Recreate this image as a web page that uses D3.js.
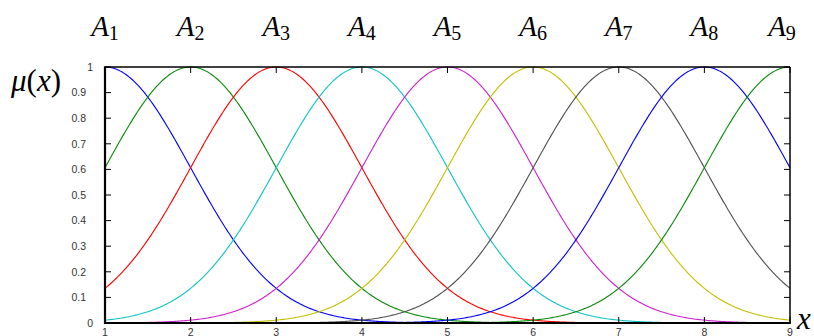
<!doctype html>
<html>
  <head>
    <script src="https://cdn.jsdelivr.net/npm/d3@7/dist/d3.min.js"></script>
    <style>
      body, html {
        margin: 0;
        background: #fff;
      }
      svg {
        display: block;
      }
      .tick-label {
        font-family: "Liberation Sans", Arial, sans-serif;
        font-size: 10.5px;
        fill: #333;
      }
      .math {
        font-family: "Liberation Serif", "DejaVu Serif", serif;
        font-style: italic;
        fill: #000;
      }
      path.mf {
        fill: none;
        stroke-width: 1.1px;
      }
    </style>
  </head>
  <body>
    <svg width="814" height="336"></svg>
    <script>

      // membership functions: gaussians, centre read at each peak, width from crossings
      var setNames = ["A1", "A2", "A3", "A4", "A5", "A6", "A7", "A8", "A9"];
      var centers = [1, 2, 3, 4, 5, 6, 7, 8, 9];
      var sigmas = [1, 1, 1, 1, 1, 1, 1, 1, 1];
      var lineColors = ["#0000ff", "#0a8a0a", "#ff0000", "#11c4c4", "#cc22cc",
                        "#c4c000", "#505050", "#0000ff", "#0a8a0a"];

      var xTicks = [1, 2, 3, 4, 5, 6, 7, 8, 9];
      var yTicks = [0, 0.1, 0.2, 0.3, 0.4, 0.5, 0.6, 0.7, 0.8, 0.9, 1];
      var xDomain = [1, 9];

      var svg = d3.select("svg");
      var pLeft = 105, pRight = 790, pTop = 67, pBottom = 323;

      var x = d3.scaleLinear().domain(xDomain).range([pLeft, pRight]);
      var y = d3.scaleLinear().domain([0, 1]).range([pBottom, pTop]);

      var samples = d3.range(xDomain[0], xDomain[1] + 0.0001, 0.02);

      var line = d3.line()
        .x(d => x(d[0]))
        .y(d => y(d[1]));

      var g = svg.append("g");

      setNames.forEach((name, i) => {
        var pts = samples.map(v => [v, Math.exp(-Math.pow(v - centers[i], 2) / (2 * sigmas[i] * sigmas[i]))]);
        g.append("path")
          .attr("class", "mf")
          .attr("stroke", lineColors[i])
          .attr("d", line(pts));
      });

      // tick marks, inside and mirrored like gnuplot
      var tickLen = 6;
      xTicks.forEach(t => {
        svg.append("line").attr("x1", x(t)).attr("x2", x(t))
          .attr("y1", pBottom).attr("y2", pBottom - tickLen)
          .attr("stroke", "#000").attr("stroke-width", 1);
        svg.append("line").attr("x1", x(t)).attr("x2", x(t))
          .attr("y1", pTop).attr("y2", pTop + tickLen)
          .attr("stroke", "#000").attr("stroke-width", 1);
        svg.append("text").attr("class", "tick-label")
          .attr("x", x(t)).attr("y", 335.5)
          .attr("text-anchor", "middle")
          .text(t);
      });

      yTicks.forEach(t => {
        svg.append("line").attr("x1", pLeft).attr("x2", pLeft + tickLen)
          .attr("y1", y(t)).attr("y2", y(t))
          .attr("stroke", "#000").attr("stroke-width", 1);
        svg.append("line").attr("x1", pRight).attr("x2", pRight - tickLen)
          .attr("y1", y(t)).attr("y2", y(t))
          .attr("stroke", "#000").attr("stroke-width", 1);
        var whole = Number.isInteger(t);
        svg.append("text").attr("class", "tick-label")
          .attr("x", whole ? 93 : 86).attr("y", y(t) + 3.7)
          .attr("text-anchor", "end")
          .text(t);
      });

      // frame
      svg.append("line").attr("x1", pLeft).attr("x2", pRight).attr("y1", pTop).attr("y2", pTop)
        .attr("stroke", "#000").attr("stroke-width", 1.5);
      svg.append("line").attr("x1", pRight).attr("x2", pRight).attr("y1", pTop).attr("y2", pBottom)
        .attr("stroke", "#000").attr("stroke-width", 1.5);
      svg.append("line").attr("x1", pLeft).attr("x2", pLeft).attr("y1", pTop - 0.75).attr("y2", pBottom + 1)
        .attr("stroke", "#000").attr("stroke-width", 2.2);
      svg.append("line").attr("x1", pLeft).attr("x2", pRight + 0.75).attr("y1", pBottom).attr("y2", pBottom)
        .attr("stroke", "#000").attr("stroke-width", 2.2);

      // set labels above the peaks
      setNames.forEach((name, i) => {
        var t = svg.append("text").attr("class", "math")
          .attr("x", Math.min(x(centers[i]), 782)).attr("y", 36)
          .attr("text-anchor", "middle")
          .attr("font-family", "Liberation Serif")
          .attr("font-size", 29);
        t.append("tspan").text(name[0]);
        t.append("tspan").attr("font-size", 20).attr("dy", 4)
          .style("font-style", "normal").text(name.slice(1));
      });

      // axis names
      var mu = svg.append("text").attr("class", "math")
        .attr("x", 11).attr("y", 91)
        .attr("font-family", "Liberation Serif")
        .attr("font-size", 31);
      mu.append("tspan").text("μ");
      mu.append("tspan").style("font-style", "normal").text("(");
      mu.append("tspan").text("x");
      mu.append("tspan").style("font-style", "normal").text(")");
      svg.append("text").attr("class", "math")
        .attr("x", 797).attr("y", 329)
        .attr("font-family", "Liberation Serif")
        .attr("font-size", 31)
        .text("x");

    </script>
  </body>
</html>
